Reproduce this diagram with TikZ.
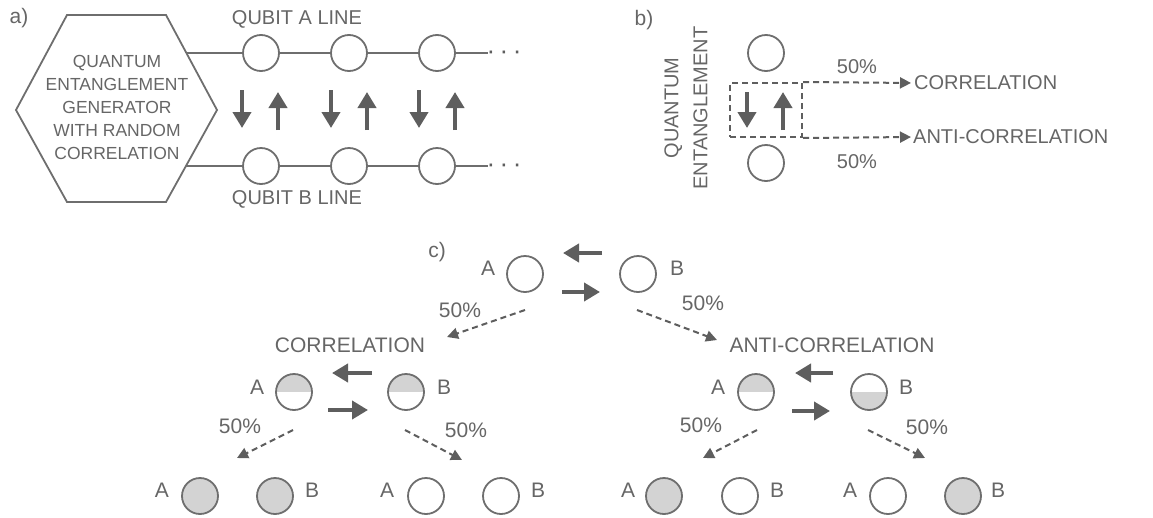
\documentclass[tikz,border=0pt]{standalone}
\usepackage{fontspec}
\setmainfont{Liberation Sans}
\usetikzlibrary{arrows.meta}
\definecolor{lc}{HTML}{6E6E6E}
\definecolor{tc}{HTML}{666666}
\definecolor{ac}{HTML}{5E5E5E}
\definecolor{fg}{HTML}{D3D3D3}
\begin{document}
\begin{tikzpicture}[x=1pt,y=-1pt,
 txt/.style={text=tc,font=\fontsize{20}{24}\selectfont,inner sep=0pt},
 ctxt/.style={text=tc,font=\fontsize{21}{25}\selectfont,inner sep=0pt},
 qb/.style={circle,draw=lc,line width=1.8pt,minimum size=36pt,inner sep=0pt,fill=white},
 qbg/.style={qb,fill=fg},
 qbtop/.style={qb,path picture={\fill[fg] (path picture bounding box.north west) rectangle (path picture bounding box.east);}},
 qbbot/.style={qb,path picture={\fill[fg] (path picture bounding box.west) rectangle (path picture bounding box.south east);}},
 wire/.style={draw=lc,line width=1.8pt},
 spin/.style={draw=ac,line width=4.5pt,-{Triangle[width=18pt,length=16pt]}},
 dasharr/.style={draw=ac,line width=2pt,dash pattern=on 6pt off 4pt,-{Triangle[width=11pt,length=11pt]}},
 dots/.style={text=ac,font=\fontsize{26}{26}\selectfont,inner sep=0pt},
]
\useasboundingbox (0,0) rectangle (1153,517);

% ---------- panel a ----------
\node[txt,font=\fontsize{21}{25}\selectfont] (la) at (19,18) {a)};
\draw[lc,line width=1.8pt] (67,15) -- (166,15) -- (217,110) -- (166,202) -- (67,202) -- (16,110) -- cycle;
\node[txt,font=\fontsize{17.5}{23}\selectfont,align=center] (gen) at (117,107)
  {QUANTUM\\ENTANGLEMENT\\GENERATOR\\WITH RANDOM\\CORRELATION};
\coordinate (ha) at (186,53);
\coordinate (hb) at (186,166);
\coordinate (aend) at (488,53);
\coordinate (bend) at (488,166);
\node[qb] (a1) at (261,53) {};
\node[qb] (a2) at (349,53) {};
\node[qb] (a3) at (437,53) {};
\node[qb] (b1) at (261,166) {};
\node[qb] (b2) at (349,166) {};
\node[qb] (b3) at (437,166) {};
\draw[wire] (ha) -- (a1);
\draw[wire] (a1) -- (a2);
\draw[wire] (a2) -- (a3);
\draw[wire] (a3) -- (aend);
\draw[wire] (hb) -- (b1);
\draw[wire] (b1) -- (b2);
\draw[wire] (b2) -- (b3);
\draw[wire] (b3) -- (bend);
\node[dots] (adots) at (504,55.7) {·\hspace{4.5pt}·\hspace{4.5pt}·};
\node[dots] (bdots) at (504,168.7) {·\hspace{4.5pt}·\hspace{4.5pt}·};
\node[txt] (qal) at (297,19) {QUBIT A LINE};
\node[txt] (qbl) at (297,199) {QUBIT B LINE};
\foreach \x in {242,331,419}{
  \draw[spin] (\x,90) -- (\x,128);
  \draw[spin] (\x+36,130) -- (\x+36,92);
}

% ---------- panel b ----------
\node[txt,font=\fontsize{21}{25}\selectfont] (lb) at (644,20) {b)};
\node[txt,rotate=90,align=center,font=\fontsize{20}{29}\selectfont] (qe) at (686,108) {QUANTUM\\ENTANGLEMENT};
\node[qb] (bt) at (766,53) {};
\node[qb] (bb) at (766,163) {};
\node[draw=ac,line width=2pt,dash pattern=on 6pt off 4pt,minimum width=72pt,minimum height=54pt,inner sep=0pt] (box) at (766,110) {};
\draw[spin] (747,92) -- (747,128);
\draw[spin] (783,130) -- (783,92);
\node[txt,anchor=west] (corr) at (914,83) {CORRELATION};
\node[txt,anchor=west] (anti) at (913,137) {ANTI-CORRELATION};
\draw[dasharr,shorten >=3pt] (box.north east) -- (corr.west);
\draw[dasharr,shorten >=2pt] (box.south east) -- (anti.west);
\node[txt] (p1) at (857,67) {50\%};
\node[txt] (p2) at (857,162) {50\%};

% ---------- panel c ----------
\node[ctxt] (lc) at (437,252) {c)};
\node[qb] (cA) at (525,274) {};
\node[qb] (cB) at (638,274) {};
\node[ctxt] (cAl) at (488,268) {A};
\node[ctxt] (cBl) at (677,268) {B};
\draw[spin] (602,253) -- (563,253);
\draw[spin] (562,292) -- (600,292);
\node[ctxt] (cp1) at (460,310) {50\%};
\node[ctxt] (cp2) at (703,303) {50\%};
\coordinate (cAs) at (525,310);
\coordinate (cAe) at (447,337);
\coordinate (cBs) at (637,310);
\coordinate (cBe) at (717,340);
\draw[dasharr] (cAs) -- (cAe);
\draw[dasharr] (cBs) -- (cBe);

% correlation branch
\node[ctxt] (corrc) at (350,345) {CORRELATION};
\node[qbtop] (kA) at (294,392) {};
\node[qbtop] (kB) at (406,392) {};
\node[ctxt] (kAl) at (257,387) {A};
\node[ctxt] (kBl) at (444,387) {B};
\draw[spin] (372,373) -- (332,373);
\draw[spin] (328,410) -- (368,410);
\node[ctxt] (kp1) at (240,426) {50\%};
\node[ctxt] (kp2) at (466,430) {50\%};
\coordinate (kAs) at (293,430);
\coordinate (kAe) at (237,458);
\coordinate (kBs) at (405,430);
\coordinate (kBe) at (462,460);
\draw[dasharr] (kAs) -- (kAe);
\draw[dasharr] (kBs) -- (kBe);

% anti-correlation branch
\node[ctxt] (antic) at (832,345) {ANTI-CORRELATION};
\node[qbtop] (nA) at (756,392) {};
\node[qbbot] (nB) at (869,392) {};
\node[ctxt] (nAl) at (718,387) {A};
\node[ctxt] (nBl) at (906,387) {B};
\draw[spin] (833,373) -- (795,373);
\draw[spin] (792,411) -- (830,411);
\node[ctxt] (np1) at (701,425) {50\%};
\node[ctxt] (np2) at (927,427) {50\%};
\coordinate (nAs) at (757,430);
\coordinate (nAe) at (703,458);
\coordinate (nBs) at (868,430);
\coordinate (nBe) at (925,458);
\draw[dasharr] (nAs) -- (nAe);
\draw[dasharr] (nBs) -- (nBe);

% bottom row
\node[qbg] (r1A) at (200,496) {};
\node[qbg] (r1B) at (275,496) {};
\node[ctxt] (r1Al) at (162,490) {A};
\node[ctxt] (r1Bl) at (312,490) {B};
\node[qb] (r2A) at (426,496) {};
\node[qb] (r2B) at (501,496) {};
\node[ctxt] (r2Al) at (387,490) {A};
\node[ctxt] (r2Bl) at (538,490) {B};
\node[qbg] (r3A) at (664,496) {};
\node[qb] (r3B) at (740,496) {};
\node[ctxt] (r3Al) at (628,490) {A};
\node[ctxt] (r3Bl) at (777,490) {B};
\node[qb] (r4A) at (888,496) {};
\node[qbg] (r4B) at (963,496) {};
\node[ctxt] (r4Al) at (850,490) {A};
\node[ctxt] (r4Bl) at (998,490) {B};
\end{tikzpicture}
\end{document}
